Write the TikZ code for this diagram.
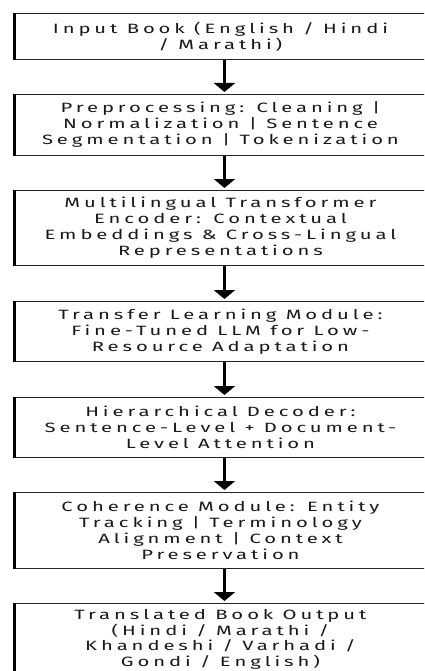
\documentclass[tikz,border=0pt]{standalone}
\usepackage{fontspec}
\setmainfont{Fira Sans}[FakeStretch=1.5, LetterSpace=29]
\usetikzlibrary{arrows.meta}
\begin{document}
\begin{tikzpicture}[x=1pt,y=-1pt,
  stage/.style={draw=black!85, line width=0.9pt, anchor=north west,
    minimum width=414pt, align=center, inner sep=0pt, text=black!90,
    font=\fontsize{13.5}{16}\selectfont},
  flow/.style={line width=3pt, black, -{Triangle[width=21pt,length=9pt]}, shorten >=2pt},
  leftedge/.style={line width=3pt, black}]
\useasboundingbox (0,0) rectangle (424,671);
\clip (0,0) rectangle (424,671);
\fill[white] (0,0) rectangle (424,671);
\node[stage, minimum height=46pt] (b1) at (13,13) {Input Book (English / Hindi\\ / Marathi)};
\node[stage, minimum height=61pt] (b2) at (13,94) {Preprocessing: Cleaning |\\ Normalization | Sentence\\ Segmentation | Tokenization};
\node[stage, minimum height=75pt] (b3) at (13,190) {Multilingual Transformer\\ Encoder: Contextual\\ Embeddings \& Cross-Lingual\\ Representations};
\node[stage, minimum height=60pt] (b4) at (13,301) {Transfer Learning Module:\\ Fine-Tuned LLM for Low-\\ Resource Adaptation};
\node[stage, minimum height=60pt] (b5) at (13,397) {Hierarchical Decoder:\\ Sentence-Level + Document-\\ Level Attention};
\node[stage, minimum height=76pt] (b6) at (13,492) {Coherence Module: Entity\\ Tracking | Terminology\\ Alignment | Context\\ Preservation};
\node[stage, minimum height=72pt, font=\fontsize{13.5}{15.5}\selectfont] (b7) at (13,603) {Translated Book Output\\ (Hindi / Marathi /\\ Khandeshi / Varhadi /\\ Gondi / English)};
\foreach \b in {b1,b2,b3,b4,b5,b6,b7}
  \draw[leftedge] ([xshift=1.5pt]\b.north west) -- ([xshift=1.5pt]\b.south west);
\foreach \a/\b in {b1/b2,b2/b3,b3/b4,b4/b5,b5/b6,b6/b7}
  \draw[flow] ([xshift=4pt]\a.south) -- ([xshift=4pt]\b.north);
\end{tikzpicture}
\end{document}
